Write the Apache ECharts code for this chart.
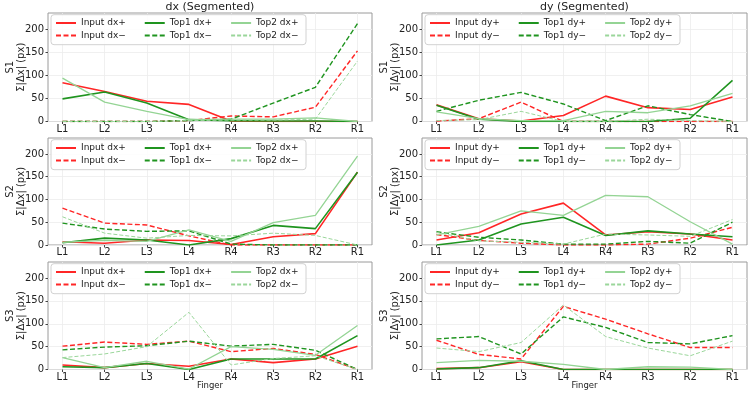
<!DOCTYPE html>
<html><head><meta charset="utf-8">
<script src="https://cdn.jsdelivr.net/npm/echarts@6/dist/echarts.min.js"></script>
<style>html,body{margin:0;padding:0;background:#fff}#c{width:751px;height:396px}</style>
</head><body><div id="c"></div>
<script>
// ---------- data ----------
const categories = ['L1','L2','L3','L4','R4','R3','R2','R1'];
const yTickValues = [0, 50, 100, 150, 200];
const sessions = ['S1','S2','S3'];
const columnTitles = ['dx (Segmented)', 'dy (Segmented)'];
const xAxisTitle = 'Finger';

// S1 dx
const dxS1InputPos = [84, 65, 44, 37, 1, 0, 0, 0];
const dxS1InputNeg = [0, 0, 0, 2, 12, 10, 31, 153];
const dxS1Top1Pos  = [49, 64, 40, 4, 2, 1, 1, 0];
const dxS1Top1Neg  = [0, 0, 0, 2, 5, 40, 74, 212];
const dxS1Top2Pos  = [94, 42, 22, 4, 5, 5, 8, 0];
const dxS1Top2Neg  = [0, 0, 0, 2, 3, 3, 5, 131];
// S1 dy
const dyS1InputPos = [36, 6, 1, 13, 55, 30, 26, 53];
const dyS1InputNeg = [1, 6, 42, 0, 0, 0, 0, 0];
const dyS1Top1Pos  = [35, 5, 0, 0, 0, 0, 7, 89];
const dyS1Top1Neg  = [22, 46, 63, 38, 2, 34, 15, 0];
const dyS1Top2Pos  = [21, 6, 2, 2, 22, 19, 34, 61];
const dyS1Top2Neg  = [2, 4, 22, 0, 0, 5, 2, 0];
// S2 dx
const dxS2InputPos = [7, 4, 11, 10, 1, 18, 25, 160];
const dxS2InputNeg = [81, 48, 44, 20, 0, 0, 0, 0];
const dxS2Top1Pos  = [5, 15, 11, 0, 14, 43, 36, 160];
const dxS2Top1Neg  = [48, 35, 30, 31, 2, 0, 0, 0];
const dxS2Top2Pos  = [6, 10, 8, 33, 8, 49, 65, 195];
const dxS2Top2Neg  = [62, 26, 15, 21, 20, 26, 21, 0];
// S2 dy
const dyS2InputPos = [11, 27, 68, 92, 22, 29, 24, 11];
const dyS2InputNeg = [23, 10, 4, 0, 0, 2, 15, 39];
const dyS2Top1Pos  = [0, 11, 46, 61, 21, 31, 24, 18];
const dyS2Top1Neg  = [29, 17, 11, 2, 2, 8, 4, 50];
const dyS2Top2Pos  = [22, 41, 75, 65, 109, 106, 51, 2];
const dyS2Top2Neg  = [28, 9, 6, 2, 24, 22, 19, 56];
// S3 dx
const dxS3InputPos = [10, 4, 13, 7, 23, 15, 23, 51];
const dxS3InputNeg = [51, 60, 55, 62, 39, 46, 33, 0];
const dxS3Top1Pos  = [6, 4, 13, 0, 23, 23, 23, 74];
const dxS3Top1Neg  = [43, 49, 52, 62, 51, 55, 42, 0];
const dxS3Top2Pos  = [26, 4, 18, 1, 50, 44, 31, 96];
const dxS3Top2Neg  = [26, 34, 50, 125, 10, 24, 30, 0];
// S3 dy
const dyS3InputPos = [2, 4, 17, 0, 0, 0, 0, 0];
const dyS3InputNeg = [64, 33, 23, 138, 110, 78, 48, 48];
const dyS3Top1Pos  = [1, 4, 19, 0, 0, 0, 0, 0];
const dyS3Top1Neg  = [67, 72, 34, 115, 92, 59, 56, 74];
const dyS3Top2Pos  = [15, 20, 18, 11, 0, 6, 5, 0];
const dyS3Top2Neg  = [47, 39, 59, 141, 72, 47, 30, 62];

// ---------- layout & style ----------
const colFrames = [{left: 48, width: 324}, {left: 422, width: 325}];
const rowFrames = [{top: 13, height: 108.5}, {top: 138, height: 107}, {top: 262, height: 107.5}];
const yMax = 235;
const inset = 14.5;
const roles = [
  {who: 'Input', sign: '+', color: '#ff2626', type: 'solid', width: 1.6},
  {who: 'Input', sign: '\u2212', color: '#ff2626', type: [5, 2.5], width: 1.4},
  {who: 'Top1', sign: '+', color: '#1f941f', type: 'solid', width: 1.6},
  {who: 'Top1', sign: '\u2212', color: '#1f941f', type: [5, 2.5], width: 1.4},
  {who: 'Top2', sign: '+', color: '#94d494', type: 'solid', width: 1.3},
  {who: 'Top2', sign: '\u2212', color: '#9ad69a', type: [4, 2], width: 1.0}
];
const panels = [
  {row: 0, col: 0, d: 'dx', data: [dxS1InputPos, dxS1InputNeg, dxS1Top1Pos, dxS1Top1Neg, dxS1Top2Pos, dxS1Top2Neg]},
  {row: 0, col: 1, d: 'dy', data: [dyS1InputPos, dyS1InputNeg, dyS1Top1Pos, dyS1Top1Neg, dyS1Top2Pos, dyS1Top2Neg]},
  {row: 1, col: 0, d: 'dx', data: [dxS2InputPos, dxS2InputNeg, dxS2Top1Pos, dxS2Top1Neg, dxS2Top2Pos, dxS2Top2Neg]},
  {row: 1, col: 1, d: 'dy', data: [dyS2InputPos, dyS2InputNeg, dyS2Top1Pos, dyS2Top1Neg, dyS2Top2Pos, dyS2Top2Neg]},
  {row: 2, col: 0, d: 'dx', data: [dxS3InputPos, dxS3InputNeg, dxS3Top1Pos, dxS3Top1Neg, dxS3Top2Pos, dxS3Top2Neg]},
  {row: 2, col: 1, d: 'dy', data: [dyS3InputPos, dyS3InputNeg, dyS3Top1Pos, dyS3Top1Neg, dyS3Top2Pos, dyS3Top2Neg]}
];

const grid = [], xAxis = [], yAxis = [], series = [], legend = [], graphic = [];
const textColor = '#222';
const nP = panels.length;

panels.forEach((p, i) => {
  const cf = colFrames[p.col], rf = rowFrames[p.row];
  grid[i] = {left: cf.left + inset, width: cf.width - 2 * inset, top: rf.top, height: rf.height, containLabel: false};
  grid[nP + i] = {left: cf.left, width: cf.width, top: rf.top, height: rf.height, show: true,
    borderColor: '#9a9a9a', borderWidth: 1, backgroundColor: 'transparent', containLabel: false};

  xAxis[i] = {type: 'category', gridIndex: i, data: categories, boundaryGap: false,
    axisLine: {show: false},
    axisTick: {show: true, length: 2.5, alignWithLabel: true, lineStyle: {color: '#444'}},
    axisLabel: {fontSize: 10, color: textColor, margin: 2.5, fontFamily: 'DejaVu Sans', interval: 0},
    splitLine: {show: true, lineStyle: {color: '#ececec', width: 0.8}},
    name: p.row === 2 ? xAxisTitle : '', nameLocation: 'middle', nameGap: 11.5, nameMoveOverlap: false,
    nameTextStyle: {fontSize: 8.5, color: textColor, fontFamily: 'DejaVu Sans'}};
  yAxis[i] = {type: 'value', gridIndex: i, min: 0, max: yMax, show: false};

  xAxis[nP + i] = {type: 'value', gridIndex: nP + i, min: 0, max: 1, show: false};
  yAxis[nP + i] = {type: 'value', gridIndex: nP + i, min: 0, max: yMax, interval: 50,
    axisLine: {show: false},
    axisTick: {show: true, length: 2.5, lineStyle: {color: '#444'}, customValues: yTickValues},
    axisLabel: {fontSize: 10, color: textColor, margin: 4, fontFamily: 'DejaVu Sans', customValues: yTickValues,
      formatter: v => (v % 50 === 0 ? String(v) : '')},
    splitLine: {show: true, lineStyle: {color: '#ececec', width: 0.8}},
    name: sessions[p.row] + '\n\u03a3|\u0394' + p.d.slice(1) + '| (px)',
    nameLocation: 'middle', nameRotate: 90, nameGap: 21, nameMoveOverlap: false,
    nameTextStyle: {fontSize: 10, color: textColor, fontFamily: 'DejaVu Sans', lineHeight: 11}};

  const names = roles.map(r => `${r.who} ${p.d}${r.sign}`);
  roles.forEach((r, k) => {
    series.push({type: 'line', name: names[k], xAxisIndex: i, yAxisIndex: i, data: p.data[k],
      symbol: 'none', showSymbol: false, animation: false, z: 3 + k,
      lineStyle: {color: r.color, type: r.type, width: r.width},
      itemStyle: {color: r.color}, emphasis: {disabled: true}});
  });

  graphic.push({type: 'rect', z: 1,
    shape: {x: cf.left + 3, y: rf.top + 1.7, width: 255, height: 30, r: 3},
    style: {fill: 'rgba(255,255,255,0.85)', stroke: '#d2d2d2', lineWidth: 1}});
  const legCommon = {orient: 'horizontal', itemGap: 18, itemWidth: 20, itemHeight: 10, padding: 0,
    selectedMode: false, itemStyle: {opacity: 0, borderWidth: 0},
    textStyle: {fontSize: 9, color: textColor, fontFamily: 'DejaVu Sans'}, z: 5};
  legend.push(Object.assign({}, legCommon, {left: cf.left + 7, top: rf.top + 5.5,
    data: [names[0], names[2], names[4]]}));
  legend.push(Object.assign({}, legCommon, {left: cf.left + 7, top: rf.top + 18,
    data: [names[1], names[3], names[5]]}));
});

const title = columnTitles.map((t, c) => ({text: t, left: colFrames[c].left + colFrames[c].width / 2,
  top: 1.5, textAlign: 'center', padding: 0,
  textStyle: {fontSize: 11, fontWeight: 'normal', color: textColor, fontFamily: 'DejaVu Sans'}}));

const chart = echarts.init(document.getElementById('c'), null, {renderer: 'canvas'});
chart.setOption({animation: false, backgroundColor: '#fff', title, grid, xAxis, yAxis, series, legend, graphic});
</script></body></html>
